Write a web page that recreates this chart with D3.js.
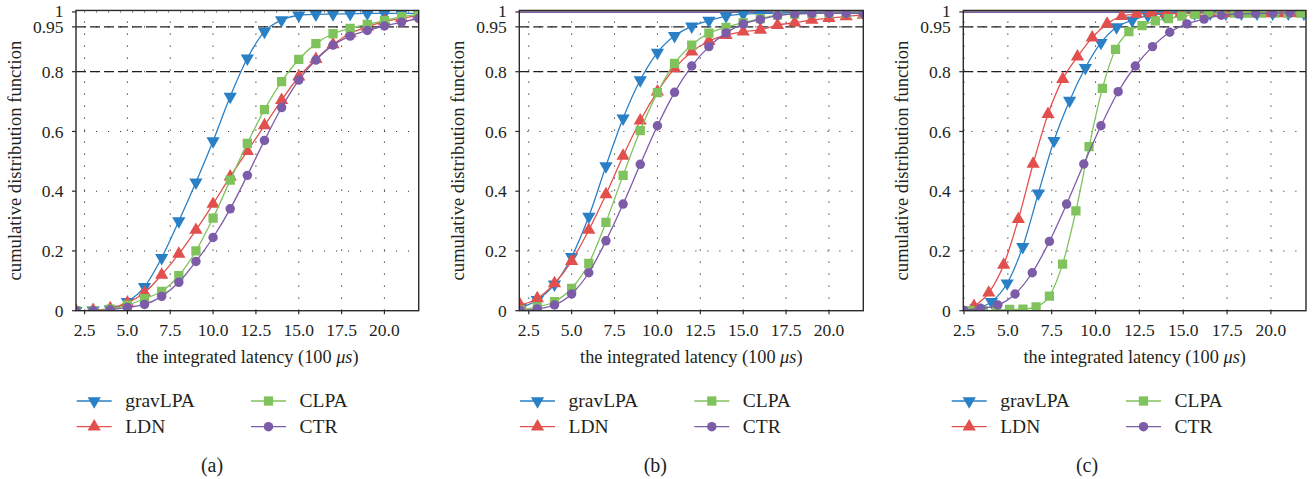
<!DOCTYPE html>
<html>
<head>
<meta charset="utf-8">
<script src="https://cdn.jsdelivr.net/npm/d3@7"></script>
<style>
  html, body { margin: 0; padding: 0; background: #fff; }
  svg { display: block; }
  text { font-family: "Liberation Serif", "Times New Roman", serif; fill: #231f20; }
</style>
</head>
<body>
<svg id="chart" width="1313" height="479"></svg>
<script>
// ---- data ---------------------------------------------------------------
const seriesNames = ["gravLPA", "LDN", "CLPA", "CTR"];
const seriesColors = ["#2a80c6", "#e2504e", "#80c35c", "#7c5ca8"];
const yTickValues = [0, 0.2, 0.4, 0.6, 0.8, 0.95, 1];
const yTickLabels = ["0", "0.2", "0.4", "0.6", "0.8", "0.95", "1"];
const xTickValues = [2.5, 5, 7.5, 10, 12.5, 15, 17.5, 20];
const xTickLabels = ["2.5", "5.0", "7.5", "10.0", "12.5", "15.0", "17.5", "20.0"];
const thresholds = [0.8, 0.95];
const captions = ["(a)", "(b)", "(c)"];

// latency samples (100 µs) for panels (a) and (b)
const latency = [2, 3, 4, 5, 6, 7, 8, 9, 10, 11, 12, 13, 14, 15, 16, 17, 18, 19, 20, 21, 22];

// panel (a)
const gravA = [0, 0.001, 0.005, 0.03, 0.08, 0.177, 0.30, 0.43, 0.568, 0.717, 0.845, 0.934, 0.973, 0.989, 0.992, 0.993, 0.994, 0.995, 0.995, 0.995, 0.996];
const ldnA  = [0, 0.002, 0.008, 0.027, 0.06, 0.12, 0.19, 0.27, 0.357, 0.449, 0.534, 0.62, 0.705, 0.783, 0.842, 0.891, 0.928, 0.95, 0.968, 0.979, 0.988];
const clpaA = [0, 0, 0.005, 0.019, 0.04, 0.065, 0.117, 0.20, 0.31, 0.437, 0.56, 0.673, 0.767, 0.841, 0.894, 0.927, 0.945, 0.958, 0.971, 0.984, 0.991];
const ctrA  = [0, 0, 0.003, 0.011, 0.021, 0.048, 0.095, 0.165, 0.245, 0.341, 0.453, 0.57, 0.68, 0.772, 0.839, 0.889, 0.919, 0.938, 0.953, 0.966, 0.978];

// panel (b)
const gravB = [0.01, 0.036, 0.088, 0.18, 0.315, 0.484, 0.644, 0.772, 0.864, 0.92, 0.952, 0.971, 0.986, 0.993, 0.995, 0.996, 0.997, 0.997, 0.997, 0.997, 0.997];
const ldnB  = [0.019, 0.041, 0.091, 0.166, 0.27, 0.389, 0.518, 0.636, 0.733, 0.811, 0.867, 0.902, 0.922, 0.934, 0.94, 0.956, 0.964, 0.973, 0.979, 0.985, 0.99];
const clpaB = [0.002, 0.013, 0.03, 0.075, 0.158, 0.296, 0.453, 0.603, 0.73, 0.828, 0.889, 0.929, 0.948, 0.964, 0.978, 0.989, 0.993, 0.995, 0.996, 0.996, 0.996];
const ctrB  = [0, 0.006, 0.019, 0.056, 0.127, 0.234, 0.357, 0.49, 0.619, 0.731, 0.819, 0.884, 0.93, 0.96, 0.975, 0.988, 0.993, 0.995, 0.995, 0.995, 0.995];

// panel (c): each series sampled at its own latencies
const gravCx = [3.18, 4.07, 4.96, 5.85, 6.74, 7.63, 8.52, 9.42, 10.31, 11.2, 12.09, 12.98, 13.87, 14.76, 15.65, 16.54, 17.43, 18.32, 19.21, 20.1, 20.99, 21.88];
const gravC  = [0.008, 0.03, 0.092, 0.214, 0.393, 0.569, 0.703, 0.813, 0.897, 0.949, 0.972, 0.988, 0.993, 0.995, 0.995, 0.995, 0.995, 0.995, 0.995, 0.995, 0.995, 0.995];
const ldnCx  = [3.07, 3.91, 4.76, 5.6, 6.44, 7.29, 8.13, 8.97, 9.81, 10.66, 11.5, 12.34, 13.19, 14.03, 14.87, 15.72, 16.56, 17.4, 18.24, 19.09, 19.93, 20.77, 21.62];
const ldnC   = [0.015, 0.06, 0.153, 0.306, 0.491, 0.658, 0.775, 0.85, 0.914, 0.96, 0.986, 0.993, 0.995, 0.995, 0.995, 0.995, 0.995, 0.995, 0.995, 0.995, 0.995, 0.995, 0.995];
const clpaCx = [2.84, 3.6, 4.35, 5.1, 5.86, 6.61, 7.37, 8.12, 8.88, 9.63, 10.39, 11.14, 11.9, 12.65, 13.41, 14.16, 14.92, 15.67, 16.43, 17.18, 17.94, 18.69, 19.45, 20.2, 20.96, 21.71];
const clpaC  = [0, 0, 0.002, 0.004, 0.005, 0.013, 0.049, 0.156, 0.334, 0.549, 0.744, 0.875, 0.934, 0.954, 0.97, 0.978, 0.986, 0.992, 0.995, 0.996, 0.996, 0.996, 0.996, 0.996, 0.996, 0.996];
const ctrCx  = [2.47, 3.45, 4.43, 5.41, 6.39, 7.37, 8.35, 9.33, 10.31, 11.29, 12.27, 13.25, 14.23, 15.21, 16.19, 17.17, 18.15, 19.13, 20.11, 21.09];
const ctrC   = [0.002, 0.008, 0.019, 0.056, 0.127, 0.232, 0.357, 0.491, 0.619, 0.733, 0.819, 0.884, 0.932, 0.96, 0.976, 0.989, 0.993, 0.995, 0.996, 0.997];

// ---- layout -------------------------------------------------------------
const panels = [
  { left: 76,    right: 418.7, xDomain: [2, 22],    wrapTop: false,
    series: [[latency, gravA], [latency, ldnA], [latency, clpaA], [latency, ctrA]] },
  { left: 519.3, right: 863.3, xDomain: [1.95, 22], wrapTop: true,
    series: [[latency, gravB], [latency, ldnB], [latency, clpaB], [latency, ctrB]] },
  { left: 963.3, right: 1306,  xDomain: [2.46, 22], wrapTop: true,
    series: [[gravCx, gravC], [ldnCx, ldnC], [clpaCx, clpaC], [ctrCx, ctrC]] }
];
const plotTop = 10.45, plotBottom = 310.7;
const legendOffsets = [0, 443.3, 875];

const svg = d3.select("#chart");

const symbols = [
  { type: d3.symbolTriangle, size: 76, rotate: 180 },
  { type: d3.symbolTriangle, size: 76, rotate: 0 },
  { type: d3.symbolSquare,   size: 86, rotate: 0 },
  { type: d3.symbolCircle,   size: 70, rotate: 0 }
];

function drawMarker(g, i, cx, cy) {
  const s = symbols[i];
  g.append("path")
    .attr("d", d3.symbol().type(s.type).size(s.size)())
    .attr("transform", `translate(${cx},${cy}) rotate(${s.rotate})`)
    .attr("fill", seriesColors[i]);
}

panels.forEach((p, pi) => {
  const x = d3.scaleLinear().domain(p.xDomain).range([p.left, p.right]);
  const y = d3.scaleLinear().domain([0, 1.005]).range([plotBottom, plotTop]);
  const g = svg.append("g");

  const clipId = "clip" + pi;
  g.append("clipPath").attr("id", clipId)
    .append("rect")
    .attr("x", p.left).attr("y", plotTop)
    .attr("width", p.right - p.left).attr("height", plotBottom - plotTop);

  // dotted grid
  const grid = g.append("g").attr("stroke", "#3a3a3a").attr("stroke-width", 1.1)
    .attr("stroke-dasharray", "1.1,10.9");
  xTickValues.forEach(v => {
    grid.append("line").attr("x1", x(v)).attr("x2", x(v))
      .attr("y1", plotBottom).attr("y2", plotTop);
  });
  yTickValues.filter(v => v > 0).forEach(v => {
    grid.append("line").attr("y1", y(v)).attr("y2", y(v))
      .attr("x1", p.left + 8).attr("x2", p.right);
  });

  // threshold lines
  thresholds.forEach(v => {
    g.append("line")
      .attr("x1", p.left).attr("x2", p.right)
      .attr("y1", y(v)).attr("y2", y(v))
      .attr("stroke", "#1e1e1e").attr("stroke-width", 1.3)
      .attr("stroke-dasharray", "10,4");
  });

  // curves and markers
  const plot = g.append("g").attr("clip-path", `url(#${clipId})`);
  const line = d3.line().x(d => x(d[0])).y(d => y(d[1])).curve(d3.curveMonotoneX);
  if (p.wrapTop) {
    p.series.forEach((s, i) => {
      plot.append("line")
        .attr("x1", x(p.xDomain[0])).attr("x2", x(p.xDomain[1]))
        .attr("y1", y(0.999)).attr("y2", y(0.999))
        .attr("stroke", seriesColors[i]).attr("stroke-width", 1.4);
    });
  }
  p.series.forEach((s, i) => {
    const pts = s[0].map((xv, k) => [xv, s[1][k]]);
    plot.append("path").datum(pts)
      .attr("d", line)
      .attr("fill", "none")
      .attr("stroke", seriesColors[i])
      .attr("stroke-width", 1.3);
    pts.forEach(d => drawMarker(plot, i, x(d[0]), y(d[1])));
  });

  // frame
  g.append("rect")
    .attr("x", p.left).attr("y", plotTop)
    .attr("width", p.right - p.left).attr("height", plotBottom - plotTop)
    .attr("fill", "none").attr("stroke", "#2a2a2a").attr("stroke-width", 1.4);

  // axes ticks and labels
  yTickValues.forEach((v, k) => {
    g.append("line").attr("x1", p.left - 4).attr("x2", p.left)
      .attr("y1", y(v)).attr("y2", y(v))
      .attr("stroke", "#2a2a2a").attr("stroke-width", 1.2);
    g.append("text")
      .attr("x", p.left - 12.5).attr("y", y(v))
      .attr("dy", v === 1 ? "0.3em" : "0.36em")
      .attr("text-anchor", "end")
      .style("font-size", "17.5px")
      .text(yTickLabels[k]);
  });
  xTickValues.forEach((v, k) => {
    g.append("line").attr("x1", x(v)).attr("x2", x(v))
      .attr("y1", plotBottom).attr("y2", plotBottom + 3.5)
      .attr("stroke", "#2a2a2a").attr("stroke-width", 1.2);
    g.append("text")
      .attr("x", x(v)).attr("y", 336)
      .attr("text-anchor", "middle")
      .style("font-size", "17.5px")
      .text(xTickLabels[k]);
  });

  // axis titles
  const xt = g.append("text")
    .attr("x", (p.left + p.right) / 2).attr("y", 362.5)
    .attr("text-anchor", "middle")
    .style("font-size", "18.3px");
  xt.append("tspan").text("the integrated latency (100 ");
  xt.append("tspan").attr("font-style", "italic").text("μs");
  xt.append("tspan").text(")");

  g.append("text")
    .attr("transform", `translate(${p.left - 55},${(plotTop + plotBottom) / 2}) rotate(-90)`)
    .attr("text-anchor", "middle")
    .style("font-size", "18.6px")
    .text("cumulative distribution function");

  // legend
  const lg = g.append("g").attr("transform", `translate(${legendOffsets[pi]},0)`);
  seriesNames.forEach((name, i) => {
    const col = Math.floor(i / 2), row = i % 2;
    const lx = 76.7 + col * 174.3;
    const ly = 401 + row * 25.7;
    lg.append("line").attr("x1", lx).attr("x2", lx + 35)
      .attr("y1", ly).attr("y2", ly)
      .attr("stroke", seriesColors[i]).attr("stroke-width", 1.3);
    drawMarker(lg, i, lx + 17.5, ly);
    lg.append("text")
      .attr("x", lx + 48.5).attr("y", ly)
      .attr("dy", "0.33em")
      .style("font-size", "19.5px")
      .text(name);
  });

  // caption, centred under the legend
  lg.append("text")
    .attr("x", 212).attr("y", 465)
    .attr("dy", "0.33em")
    .attr("text-anchor", "middle")
    .style("font-size", "20px")
    .text(captions[pi]);
});
</script>
</body>
</html>
